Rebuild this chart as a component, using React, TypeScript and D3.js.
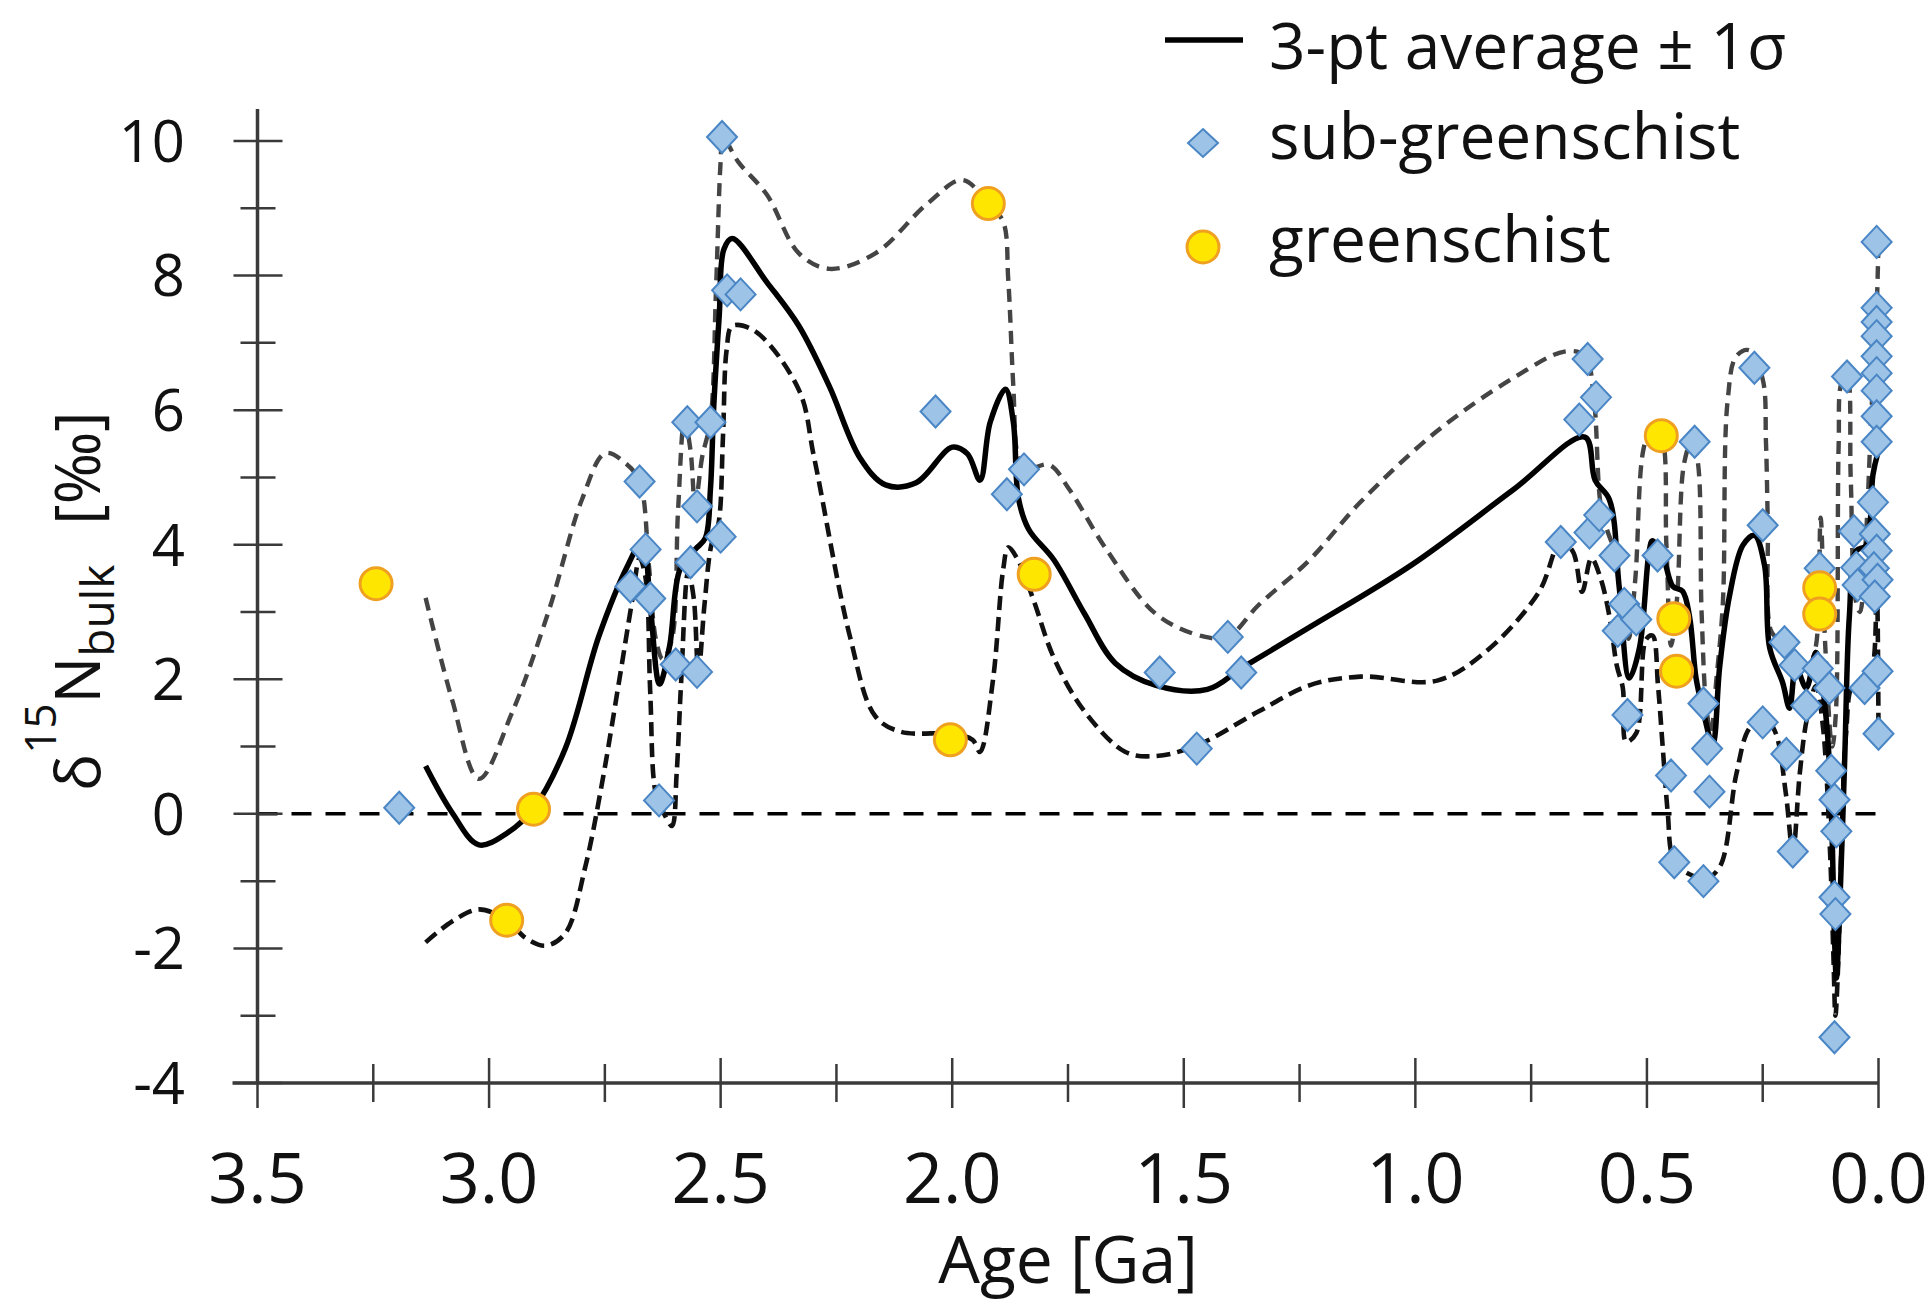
import React from 'react';
import * as d3 from 'd3';

type P = [number, number];

// sub-greenschist samples: [age Ga, δ15N ‰]
const subGreenschist: P[] = [
  [3.194, 0.09],
  [2.695, 3.38], [2.675, 4.94], [2.662, 3.93], [2.652, 3.2], [2.633, 0.2], [2.597, 2.22],
  [2.572, 5.82], [2.565, 3.74], [2.551, 4.57], [2.551, 2.11], [2.522, 5.82], [2.5, 4.12],
  [2.497, 10.06], [2.486, 7.78], [2.457, 7.72],
  [2.036, 5.98], [1.882, 4.75], [1.845, 5.12],
  [1.552, 2.1], [1.472, 0.97], [1.405, 2.63], [1.376, 2.1],
  [0.686, 4.04], [0.646, 5.86], [0.628, 6.76], [0.624, 4.18], [0.61, 6.19], [0.603, 4.44],
  [0.57, 3.84], [0.563, 2.72], [0.549, 3.12], [0.542, 1.47], [0.523, 2.89], [0.477, 3.84],
  [0.448, 0.57], [0.441, -0.72], [0.397, 5.53], [0.378, 1.64], [0.37, 0.97], [0.365, 0.33],
  [0.378, -1.0], [0.268, 6.63], [0.25, 4.29], [0.25, 1.36], [0.203, 2.55], [0.199, 0.89],
  [0.185, -0.56], [0.181, 2.21], [0.156, 1.61], [0.131, 2.16], [0.127, 3.65], [0.106, 1.87],
  [0.102, 0.64], [0.095, 0.21], [0.091, -0.26], [0.095, -1.24], [0.093, -1.49], [0.095, -3.32],
  [0.068, 6.5], [0.053, 4.2], [0.048, 3.66], [0.045, 3.4], [0.03, 1.87],
  [0.004, 8.5], [0.004, 7.52], [0.004, 7.31], [0.004, 7.1], [0.004, 6.8], [0.004, 6.55],
  [0.004, 6.29], [0.004, 5.91], [0.004, 5.53], [0.012, 4.63], [0.008, 4.16], [0.004, 3.91],
  [0.01, 3.65], [0.002, 3.48], [0.008, 3.23], [0.002, 2.12], [0.0, 1.19],
];

// greenschist samples
const greenschist: P[] = [
  [3.244, 3.42], [2.962, -1.58], [2.904, 0.07], [2.004, 1.1], [1.922, 9.07], [1.823, 3.56],
  [0.469, 5.62], [0.442, 2.9], [0.436, 2.12], [0.127, 3.36], [0.127, 2.97],
];

// 3-pt average
const meanLine: P[] = [
  [3.137, 0.71], [3.08, 0.02], [3.022, -0.46], [2.96, -0.28], [2.905, 0.07], [2.835, 0.98],
  [2.763, 2.64], [2.7, 3.7], [2.669, 4.05], [2.652, 3.1], [2.632, 1.93], [2.61, 2.5],
  [2.588, 3.63], [2.555, 3.93], [2.533, 4.1], [2.522, 4.83], [2.515, 6.04], [2.503, 7.41],
  [2.493, 8.39], [2.475, 8.55], [2.4, 7.9], [2.331, 7.25], [2.265, 6.35], [2.199, 5.29],
  [2.144, 4.89], [2.078, 4.92], [2.0, 5.45], [1.967, 5.35], [1.94, 4.96], [1.918, 5.82],
  [1.885, 6.31], [1.868, 5.82], [1.857, 4.69], [1.835, 4.23], [1.78, 3.77], [1.714, 2.97],
  [1.648, 2.24], [1.56, 1.91], [1.449, 1.85], [1.372, 2.18], [1.229, 2.77], [1.008, 3.7],
  [0.788, 4.82], [0.634, 5.6], [0.612, 4.96], [0.581, 4.67], [0.56, 3.38], [0.538, 2.02],
  [0.516, 2.47], [0.495, 3.91], [0.488, 4.06], [0.466, 3.84], [0.444, 3.38], [0.423, 3.31],
  [0.408, 2.93], [0.394, 2.02], [0.38, 1.57], [0.358, 1.04], [0.343, 2.18], [0.322, 3.23],
  [0.293, 3.99], [0.268, 4.14], [0.246, 3.69], [0.235, 2.47], [0.207, 1.95], [0.192, 1.57],
  [0.178, 2.18], [0.156, 1.87], [0.135, 2.4], [0.113, 1.42], [0.102, 0.06], [0.095, -1.83],
  [0.091, -2.44], [0.084, -1.45], [0.073, 0.81], [0.063, 2.93], [0.048, 3.91], [0.027, 3.99],
  [0.012, 5.04], [0.002, 5.35],
];

// average + 1σ
const upperLine: P[] = [
  [3.137, 3.21], [3.08, 1.7], [3.022, 0.52], [2.95, 1.51], [2.871, 3.02], [2.799, 4.68],
  [2.749, 5.36], [2.705, 5.21], [2.675, 4.94], [2.655, 3.7], [2.64, 2.6], [2.625, 2.3],
  [2.605, 2.6], [2.592, 4.5], [2.578, 5.85], [2.565, 5.4], [2.555, 4.6], [2.54, 5.3],
  [2.522, 5.85], [2.51, 7.8], [2.5, 9.7], [2.495, 10.05], [2.462, 9.69], [2.4, 9.2],
  [2.331, 8.33], [2.265, 8.1], [2.166, 8.33], [2.055, 9.06], [1.978, 9.42], [1.922, 9.07],
  [1.89, 8.8], [1.879, 7.94], [1.868, 6.35], [1.857, 5.29], [1.84, 5.12], [1.791, 5.19],
  [1.747, 4.82], [1.67, 3.96], [1.56, 2.97], [1.46, 2.64], [1.405, 2.63], [1.339, 3.1],
  [1.229, 3.77], [1.119, 4.63], [0.953, 5.69], [0.788, 6.48], [0.678, 6.87], [0.634, 6.81],
  [0.615, 6.2], [0.6, 4.6], [0.585, 4.2], [0.57, 3.9], [0.555, 3.1], [0.54, 2.6],
  [0.525, 3.5], [0.508, 5.4], [0.49, 5.75], [0.47, 5.65], [0.458, 4.0], [0.448, 2.5],
  [0.435, 3.2], [0.42, 5.2], [0.405, 5.5], [0.392, 5.3], [0.382, 3.0], [0.372, 1.6],
  [0.362, 1.2], [0.35, 2.0], [0.336, 3.14], [0.326, 6.12], [0.307, 6.8], [0.279, 6.89],
  [0.25, 6.46], [0.243, 5.53], [0.239, 4.33], [0.232, 2.72], [0.215, 2.6], [0.2, 2.6],
  [0.185, 2.3], [0.17, 2.3], [0.15, 2.2], [0.135, 2.5], [0.125, 4.4], [0.115, 2.5],
  [0.1, 1.0], [0.092, 1.5], [0.086, 5.5], [0.08, 6.4], [0.068, 6.5], [0.06, 5.0],
  [0.05, 3.2], [0.04, 3.0], [0.028, 4.0], [0.015, 6.0], [0.004, 7.5], [0.0, 8.5],
];

// average - 1σ
const lowerLine: P[] = [
  [3.137, -1.91], [3.08, -1.6], [3.022, -1.42], [2.962, -1.58], [2.92, -1.85], [2.878, -1.96],
  [2.835, -1.77], [2.792, -0.78], [2.756, 0.46], [2.72, 1.94], [2.691, 3.17], [2.675, 3.8],
  [2.662, 3.5], [2.652, 1.8], [2.64, 0.3], [2.622, 0.0], [2.605, -0.18], [2.595, 0.6],
  [2.585, 2.0], [2.57, 3.6], [2.558, 3.2], [2.548, 2.1], [2.535, 3.1], [2.52, 4.0],
  [2.505, 4.3], [2.495, 5.6], [2.487, 6.9], [2.475, 7.25], [2.425, 7.17], [2.331, 6.3],
  [2.298, 5.29], [2.221, 2.64], [2.166, 1.45], [2.111, 1.22], [2.0, 1.19], [1.956, 1.1],
  [1.94, 0.92], [1.912, 1.99], [1.89, 3.63], [1.879, 3.96], [1.857, 3.76], [1.824, 3.17],
  [1.78, 2.31], [1.714, 1.52], [1.626, 0.92], [1.56, 0.86], [1.471, 1.02], [1.339, 1.52],
  [1.229, 1.91], [1.119, 2.04], [0.953, 1.98], [0.843, 2.44], [0.733, 3.3], [0.686, 4.04],
  [0.66, 3.9], [0.64, 3.3], [0.62, 3.8], [0.6, 3.5], [0.58, 2.9], [0.565, 2.2],
  [0.552, 1.87], [0.545, 1.07], [0.523, 1.2], [0.502, 2.59], [0.488, 2.65], [0.476, 1.9],
  [0.466, 1.0], [0.455, 0.01], [0.444, -0.65], [0.42, -0.85], [0.401, -0.92], [0.38, -0.99],
  [0.343, -0.79], [0.307, 0.59], [0.279, 1.27], [0.246, 1.44], [0.222, 1.2], [0.2, 0.3],
  [0.185, -0.56], [0.17, 0.6], [0.155, 1.4], [0.135, 1.9], [0.12, 1.3], [0.105, -0.5],
  [0.097, -2.2], [0.093, -3.0], [0.088, -2.4], [0.08, -0.5], [0.07, 1.2], [0.055, 1.9],
  [0.03, 1.87], [0.012, 2.2], [0.004, 3.48], [0.0, 1.19],
];

const xTicksMajor = [3.5, 3.0, 2.5, 2.0, 1.5, 1.0, 0.5, 0.0];
const xTicksMinor = [3.25, 2.75, 2.25, 1.75, 1.25, 0.75, 0.25];
const yTicksMajor = [-4, -2, 0, 2, 4, 6, 8, 10];
const yTicksMinor = [-3, -1, 1, 3, 5, 7, 9];
const legendLabels = ['3-pt average \u00b1 1\u03c3', 'sub-greenschist', 'greenschist'];
const xTitle = 'Age [Ga]';

const FONT = "'Open Sans', 'Noto Sans', 'DejaVu Sans', sans-serif";
const DIAMOND_FILL = '#9dc3e6';
const DIAMOND_STROKE = '#4a86c5';
const CIRCLE_FILL = '#ffe600';
const CIRCLE_STROKE = '#f0a020';

function diamond(cx: number, cy: number, hw: number, hh: number) {
  return `M${cx},${cy - hh}L${cx + hw},${cy}L${cx},${cy + hh}L${cx - hw},${cy}Z`;
}

export default function App() {
  const W = 1932;
  const H = 1302;
  const x = d3.scaleLinear().domain([3.5, 0]).range([257.5, 1878.5]);
  const y = d3.scaleLinear().domain([-4, 10]).range([1083, 141]);
  const line = d3
    .line<P>()
    .x((d) => x(d[0]))
    .y((d) => y(d[1]))
    .curve(d3.curveCatmullRom.alpha(0.5));

  const axisColor = '#3a3a3a';
  const x0 = x(3.5);
  const yBase = y(-4);

  return (
    <div style={{ position: 'fixed', left: 0, top: 0, width: W, height: H, background: '#fff' }}>
      <svg width={W} height={H} viewBox={`0 0 ${W} ${H}`} style={{ display: 'block' }}>
        <rect x={0} y={0} width={W} height={H} fill="#fff" />

        {/* zero reference line */}
        <line x1={x(3.5)} x2={x(0)} y1={y(0)} y2={y(0)} stroke="#000" strokeWidth={3.5} strokeDasharray="20 14" />

        {/* axes */}
        <line x1={x0} x2={x0} y1={109} y2={yBase} stroke={axisColor} strokeWidth={3.5} />
        <line x1={x0 - 25} x2={x(0)} y1={yBase} y2={yBase} stroke={axisColor} strokeWidth={3.5} />
        {yTicksMajor.map((v) => (
          <line key={'ym' + v} x1={x0 - 24} x2={x0 + 25} y1={y(v)} y2={y(v)} stroke={axisColor} strokeWidth={2.5} />
        ))}
        {yTicksMinor.map((v) => (
          <line key={'yn' + v} x1={x0 - 17} x2={x0 + 18} y1={y(v)} y2={y(v)} stroke={axisColor} strokeWidth={2.5} />
        ))}
        {xTicksMajor.map((v) => (
          <line key={'xm' + v} x1={x(v)} x2={x(v)} y1={yBase - 25} y2={yBase + 25} stroke={axisColor} strokeWidth={2.5} />
        ))}
        {xTicksMinor.map((v) => (
          <line key={'xn' + v} x1={x(v)} x2={x(v)} y1={yBase - 19} y2={yBase + 19} stroke={axisColor} strokeWidth={2.5} />
        ))}

        {/* tick labels */}
        {yTicksMajor.map((v) => (
          <text key={'yl' + v} x={185} y={y(v)} dy="0.36em" textAnchor="end" fontFamily={FONT} fontSize={58} fill="#111">
            {String(v)}
          </text>
        ))}
        {xTicksMajor.map((v) => (
          <text key={'xl' + v} x={x(v)} y={1203} textAnchor="middle" fontFamily={FONT} fontSize={70} fill="#111">
            {d3.format('.1f')(v)}
          </text>
        ))}

        {/* axis titles */}
        <text x={(x(3.5) + x(0)) / 2} y={1283} textAnchor="middle" fontFamily={FONT} fontSize={66} fill="#111">
          {xTitle}
        </text>
        <text transform="translate(100,791) rotate(-90)" textAnchor="start" fontFamily={FONT} fontSize={62} fill="#111">
          {'\u03b4'}
          <tspan fontSize={44} dy={-44}>15</tspan>
          <tspan fontSize={62} dy={44}>N</tspan>
          <tspan fontSize={46} dy={14}>bulk</tspan>
          <tspan fontSize={62} dy={-14} dx={40}>{'[\u2030]'}</tspan>
        </text>

        {/* ±1σ lines and average */}
        <path d={line(upperLine) || ''} fill="none" stroke="#444" strokeWidth={4.4} strokeDasharray="13 8" />
        <path d={line(lowerLine) || ''} fill="none" stroke="#111" strokeWidth={4.6} strokeDasharray="14 7" />
        <path d={line(meanLine) || ''} fill="none" stroke="#000" strokeWidth={5.5} strokeLinejoin="round" />

        {/* markers */}
        {subGreenschist.map((d, i) => (
          <path key={'d' + i} d={diamond(x(d[0]), y(d[1]), 15, 16)} fill={DIAMOND_FILL} stroke={DIAMOND_STROKE} strokeWidth={2} />
        ))}
        {greenschist.map((d, i) => (
          <circle key={'c' + i} cx={x(d[0])} cy={y(d[1])} r={16} fill={CIRCLE_FILL} stroke={CIRCLE_STROKE} strokeWidth={3} />
        ))}

        {/* legend */}
        <line x1={1165} x2={1243} y1={40} y2={40} stroke="#000" strokeWidth={5.5} />
        <text x={1269} y={69} fontFamily={FONT} fontSize={64} fill="#111">{legendLabels[0]}</text>
        <path d={diamond(1203, 143, 15, 14)} fill={DIAMOND_FILL} stroke={DIAMOND_STROKE} strokeWidth={2} />
        <text x={1269} y={159} fontFamily={FONT} fontSize={64} fill="#111">{legendLabels[1]}</text>
        <circle cx={1203} cy={247} r={16} fill={CIRCLE_FILL} stroke={CIRCLE_STROKE} strokeWidth={3} />
        <text x={1269} y={262} fontFamily={FONT} fontSize={64} fill="#111">{legendLabels[2]}</text>
      </svg>
    </div>
  );
}
